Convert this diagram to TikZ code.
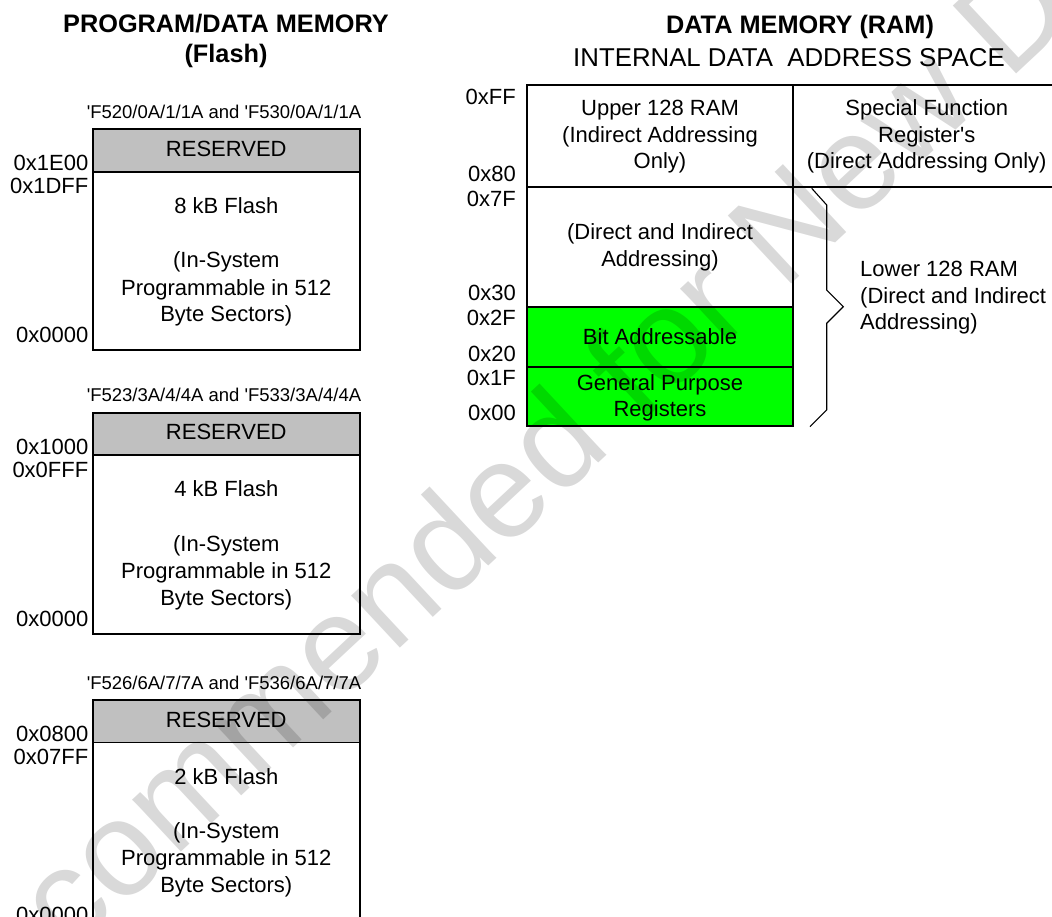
\documentclass[tikz,border=0pt]{standalone}
\usepackage{fontspec}
\setmainfont{Liberation Sans}
\definecolor{resgray}{RGB}{192,192,192}
\definecolor{brightgreen}{RGB}{0,255,0}
\newcommand{\sq}{\textquotesingle}
\tikzset{
  boxline/.style={line width=1.7pt},
  txt/.style={anchor=base, inner sep=0pt, font=\fontsize{22}{26}\selectfont},
  addr/.style={anchor=base east, inner sep=0pt, font=\fontsize{22}{26}\selectfont},
  ltxt/.style={anchor=base west, inner sep=0pt, font=\fontsize{22}{26}\selectfont},
  subttl/.style={anchor=base, inner sep=0pt, font=\fontsize{18.5}{22}\selectfont},
  ttl/.style={anchor=base, inner sep=0pt, font=\fontsize{25.3}{30}\selectfont\bfseries},
  ttlr/.style={anchor=base, inner sep=0pt, font=\fontsize{25.8}{30}\selectfont},
  bracel/.style={line width=1.1pt, line join=miter},
  wmark/.style={rotate=43, opacity=0.15, inner sep=0pt, font=\fontsize{135}{135}\selectfont},
}
\begin{document}
\begin{tikzpicture}[x=1pt,y=-1pt]
\useasboundingbox (0,0) rectangle (1052,917);

% ---------- titles ----------
\node[ttl] (t1) at (226,33) {PROGRAM/DATA MEMORY};
\node[ttl] (t2) at (226,63) {(Flash)};
\node[ttl] (t3) at (800,34) {DATA MEMORY (RAM)};
\node[ttlr] (t4) at (789,67) {INTERNAL DATA~ ADDRESS SPACE};

% ---------- flash box 1 ----------
\fill[resgray] (92.7,129.3) rectangle (360,171.8);
\draw[boxline] (92.7,129.3) rectangle (360,350.3);
\draw[boxline] (92.7,171.8) -- (360,171.8);
\node[subttl] (f1s) at (224,118.3) {\sq F520/0A/1/1A and \sq F530/0A/1/1A};
\node[txt] (f1r) at (226.3,156.3) {RESERVED};
\node[txt] (f1a) at (226.3,213.3) {8 kB Flash};
\node[txt] (f1b) at (226.3,268) {(In-System};
\node[txt] (f1c) at (226.3,295) {Programmable in 512};
\node[txt] (f1d) at (226.3,322) {Byte Sectors)};
\node[addr] (f1x) at (88.5,170.8) {0x1E00};
\node[addr] (f1y) at (88.5,193.8) {0x1DFF};
\node[addr] (f1z) at (88.5,342.8) {0x0000};

% ---------- flash box 2 ----------
\fill[resgray] (92.7,412.7) rectangle (360,455.2);
\draw[boxline] (92.7,412.7) rectangle (360,634.2);
\draw[boxline] (92.7,455.2) -- (360,455.2);
\node[subttl] (f2s) at (224,401.7) {\sq F523/3A/4/4A and \sq F533/3A/4/4A};
\node[txt] (f2r) at (226.3,439.7) {RESERVED};
\node[txt] (f2a) at (226.3,496.7) {4 kB Flash};
\node[txt] (f2b) at (226.3,551.4) {(In-System};
\node[txt] (f2c) at (226.3,578.4) {Programmable in 512};
\node[txt] (f2d) at (226.3,605.4) {Byte Sectors)};
\node[addr] (f2x) at (88.5,454.2) {0x1000};
\node[addr] (f2y) at (88.5,477.2) {0x0FFF};
\node[addr] (f2z) at (88.5,626.4) {0x0000};

% ---------- flash box 3 ----------
\fill[resgray] (92.7,700) rectangle (360,742.5);
\draw[boxline] (92.7,700) rectangle (360,930);
\draw[boxline] (92.7,742.5) -- (360,742.5);
\node[subttl] (f3s) at (224,689) {\sq F526/6A/7/7A and \sq F536/6A/7/7A};
\node[txt] (f3r) at (226.3,727) {RESERVED};
\node[txt] (f3a) at (226.3,784) {2 kB Flash};
\node[txt] (f3b) at (226.3,838.7) {(In-System};
\node[txt] (f3c) at (226.3,865.7) {Programmable in 512};
\node[txt] (f3d) at (226.3,892.7) {Byte Sectors)};
\node[addr] (f3x) at (88.5,741.5) {0x0800};
\node[addr] (f3y) at (88.5,764.5) {0x07FF};
\node[addr] (f3z) at (88.5,922) {0x0000};

% ---------- RAM map ----------
\fill[brightgreen] (526.7,306.7) rectangle (793.3,425.7);
\draw[boxline] (1070,85) -- (526.7,85) -- (526.7,425.7) -- (793.3,425.7) -- (793.3,85);
\draw[boxline] (526.7,186.7) -- (1070,186.7);
\draw[boxline] (526.7,306.7) -- (793.3,306.7);
\draw[boxline] (526.7,366.7) -- (793.3,366.7);

\node[txt] (u1) at (660,115.5) {Upper 128 RAM};
\node[txt] (u2) at (660,142.3) {(Indirect Addressing};
\node[txt] (u3) at (660,169) {Only)};
\node[txt] (s1) at (926.7,115.5) {Special Function};
\node[txt] (s2) at (926.7,142.2) {Register\sq s};
\node[txt] (s3) at (926.7,168.8) {(Direct Addressing Only)};
\node[txt] (d1) at (660,240) {(Direct and Indirect};
\node[txt] (d2) at (660,266.7) {Addressing)};
\node[txt] (b1) at (660,344) {Bit Addressable};
\node[txt] (g1) at (660,390) {General Purpose};
\node[txt] (g2) at (660,416.5) {Registers};

\node[addr] (a1) at (516,105) {0xFF};
\node[addr] (a2) at (516,181.5) {0x80};
\node[addr] (a3) at (516,207) {0x7F};
\node[addr] (a4) at (516,301) {0x30};
\node[addr] (a5) at (516,325) {0x2F};
\node[addr] (a6) at (516,361) {0x20};
\node[addr] (a7) at (516,385) {0x1F};
\node[addr] (a8) at (516,420) {0x00};

% brace
\draw[bracel] (811.7,188.3) -- (826.7,205) -- (826.7,290) -- (843.3,306.7)
  -- (826.7,323.3) -- (826.7,410) -- (810,426.7);
\node[ltxt] (l1) at (860,276.7) {Lower 128 RAM};
\node[ltxt] (l2) at (860,303.3) {(Direct and Indirect};
\node[ltxt] (l3) at (860,330) {Addressing)};

% ---------- watermark ----------
\node[wmark] (wm) at (540,470) {Not Recommended for New Designs};
\end{tikzpicture}
\end{document}
